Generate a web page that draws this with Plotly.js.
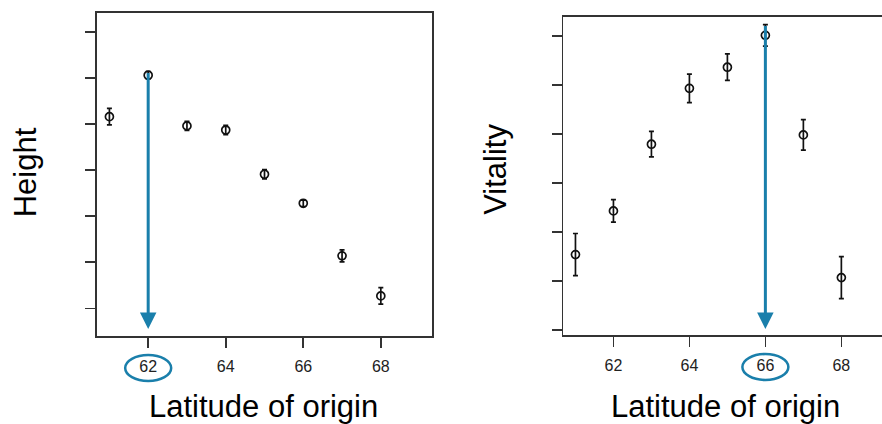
<!DOCTYPE html>
<html>
<head>
<meta charset="utf-8">
<script src="https://cdn.plot.ly/plotly-3.0.1.min.js"></script>
<style>html,body{margin:0;padding:0;background:#fff;}#chart{width:882px;height:424px;}</style>
</head>
<body>
<div id="chart"></div>
<script>
// ---- data ----
var latitude = [61, 62, 63, 64, 65, 66, 67, 68];
var heightMean = [5.16, 6.06, 4.96, 4.87, 3.91, 3.28, 2.14, 1.27];
var heightErr  = [0.18, 0.08, 0.10, 0.10, 0.10, 0.07, 0.13, 0.18];
var vitalityMean = [2.54, 3.43, 4.79, 5.93, 6.36, 7.01, 4.98, 2.07];
var vitalityErr  = [0.43, 0.23, 0.26, 0.29, 0.27, 0.22, 0.31, 0.43];
var xTickVals = [62, 64, 66, 68];
var xTickText = ['62', '64', '66', '68'];
var yTickVals = [1, 2, 3, 4, 5, 6, 7];
var heightBestLat = 62;
var vitalityBestLat = 66;
var xTitle = 'Latitude of origin';
var yTitleLeft = 'Height';
var yTitleRight = 'Vitality';

// ---- styling ----
var BLUE = '#1a7fab';
var FONT = 'Arial, "Liberation Sans", sans-serif';
var W = 882, H = 424;
function px(v){ return v / W; }
function py(v){ return 1 - v / H; }

var yRangeL = [0.40, 7.41];
var yRangeR = [0.90, 7.39];

function pointTrace(y, err, xa, ya){
  return {
    type: 'scatter', mode: 'markers', x: latitude, y: y,
    xaxis: xa, yaxis: ya,
    marker: {symbol: 'circle-open', size: 8, color: '#111', line: {width: 1.7, color: '#111'}},
    error_y: {type: 'data', array: err, visible: true, color: '#111', thickness: 1.7, width: 2.5},
    showlegend: false, hoverinfo: 'x+y'
  };
}

var data = [
  pointTrace(heightMean, heightErr, 'x', 'y'),
  pointTrace(vitalityMean, vitalityErr, 'x2', 'y2')
];

function xaxisCfg(domain, range, anchor, mirror){
  return {
    domain: domain, range: range, anchor: anchor,
    showgrid: false, zeroline: false,
    showline: true, mirror: mirror, linecolor: '#333', linewidth: 1.6,
    ticks: 'outside', ticklen: 10, tickwidth: 1.6, tickcolor: '#333',
    tickvals: xTickVals, ticktext: xTickText,
    ticklabelstandoff: 5,
    tickfont: {family: FONT, size: 16, color: '#222'}
  };
}
function yaxisCfg(domain, range, anchor, mirror){
  return {
    domain: domain, range: range, anchor: anchor,
    showgrid: false, zeroline: false,
    showline: true, mirror: mirror, linecolor: '#333', linewidth: 1.6,
    ticks: 'outside', ticklen: 10, tickwidth: 1.6, tickcolor: '#333',
    tickvals: yTickVals, showticklabels: false
  };
}

var iL = latitude.indexOf(heightBestLat);
var iR = latitude.indexOf(vitalityBestLat);

var layout = {
  width: W, height: H,
  margin: {l: 0, r: 0, t: 0, b: 0},
  paper_bgcolor: '#fff', plot_bgcolor: '#fff',
  font: {family: FONT, color: '#000'},
  xaxis:  xaxisCfg([px(97), px(432)], [60.68, 69.32], 'y', true),
  yaxis:  yaxisCfg([py(336), py(13)], yRangeL, 'x', true),
  xaxis2: xaxisCfg([px(563.3), 1], [60.68, 69.07], 'y2', true),
  yaxis2: yaxisCfg([py(335), py(16.7)], yRangeR, 'x2', false),
  annotations: [
    {xref: 'x', yref: 'y', x: heightBestLat, y: yRangeL[0],
     axref: 'x', ayref: 'y', ax: heightBestLat, ay: heightMean[iL] + heightErr[iL],
     showarrow: true, arrowhead: 2, arrowsize: 1.1, arrowwidth: 3, arrowcolor: BLUE,
     standoff: 7, text: ''},
    {xref: 'x2', yref: 'y2', x: vitalityBestLat, y: yRangeR[0],
     axref: 'x2', ayref: 'y2', ax: vitalityBestLat, ay: vitalityMean[iR] + vitalityErr[iR],
     showarrow: true, arrowhead: 2, arrowsize: 1.1, arrowwidth: 3, arrowcolor: BLUE,
     standoff: 6, text: ''},
    {xref: 'paper', yref: 'paper', x: px(25.3), y: py(172), xanchor: 'center', yanchor: 'middle',
     text: yTitleLeft, textangle: -90, showarrow: false, font: {family: FONT, size: 31, color: '#000'}},
    {xref: 'paper', yref: 'paper', x: px(495.3), y: py(169.5), xanchor: 'center', yanchor: 'middle',
     text: yTitleRight, textangle: -90, showarrow: false, font: {family: FONT, size: 31, color: '#000'}},
    {xref: 'paper', yref: 'paper', x: px(263.7), y: py(406), xanchor: 'center', yanchor: 'middle',
     text: xTitle, showarrow: false, font: {family: FONT, size: 31, color: '#000'}},
    {xref: 'paper', yref: 'paper', x: px(725.5), y: py(406), xanchor: 'center', yanchor: 'middle',
     text: xTitle, showarrow: false, font: {family: FONT, size: 31, color: '#000'}}
  ],
  shapes: [
    {type: 'circle', xref: 'x', yref: 'paper', xsizemode: 'pixel', ysizemode: 'pixel',
     xanchor: heightBestLat, yanchor: py(368), x0: -23, x1: 23, y0: -13, y1: 13,
     line: {color: BLUE, width: 2.5}, fillcolor: 'rgba(0,0,0,0)'},
    {type: 'circle', xref: 'x2', yref: 'paper', xsizemode: 'pixel', ysizemode: 'pixel',
     xanchor: vitalityBestLat, yanchor: py(367), x0: -23, x1: 23, y0: -13, y1: 13,
     line: {color: BLUE, width: 2.5}, fillcolor: 'rgba(0,0,0,0)'}
  ]
};

Plotly.newPlot('chart', data, layout, {displayModeBar: false, staticPlot: true});
</script>
</body>
</html>
